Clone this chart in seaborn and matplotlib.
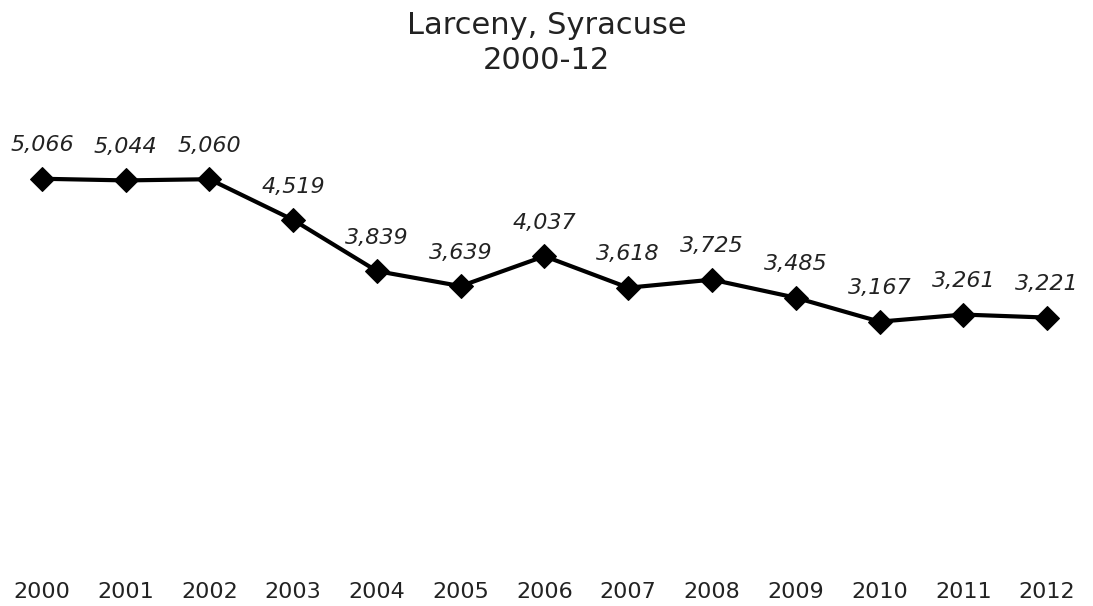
import matplotlib
matplotlib.use("Agg")
import matplotlib.pyplot as plt
import seaborn as sns
import pandas as pd

years = [2000, 2001, 2002, 2003, 2004, 2005, 2006, 2007, 2008, 2009, 2010, 2011, 2012]
larceny = [5066, 5044, 5060, 4519, 3839, 3639, 4037, 3618, 3725, 3485, 3167, 3261, 3221]

df = pd.DataFrame({"year": years, "count": larceny})

sns.set_style("white")
plt.rcParams['font.family'] = ['DejaVu Sans']

fig = plt.figure(figsize=(10.93, 6.06), dpi=100)
ax = fig.add_axes([0.0, 0.076, 0.9963, 0.745])

sns.lineplot(data=df, x="year", y="count", ax=ax, color="black", lw=3,
             marker="D", markersize=12, markeredgecolor="black")

for x, y in zip(years, larceny):
    ax.annotate(f"{y:,}", (x, y), xytext=(0, 24), textcoords="offset points",
                ha="center", va="center", fontsize=16, style="italic", color="#222222")

ax.set_xlim(1999.5, 2012.5)
ax.set_ylim(0, 6000)
ax.set_yticks([])
ax.set_xticks(years)
ax.set_xticklabels([str(y) for y in years], fontsize=16, color="#222222")
ax.tick_params(axis="x", length=0, pad=16)
ax.set_xlabel("")
ax.set_ylabel("")
for s in ax.spines.values():
    s.set_visible(False)

fig.text(0.5, 0.958, "Larceny, Syracuse", ha="center", va="center", fontsize=22, color="#222222")
fig.text(0.5, 0.9, "2000-12", ha="center", va="center", fontsize=22, color="#222222")

fig.savefig("out.png", dpi=100)
